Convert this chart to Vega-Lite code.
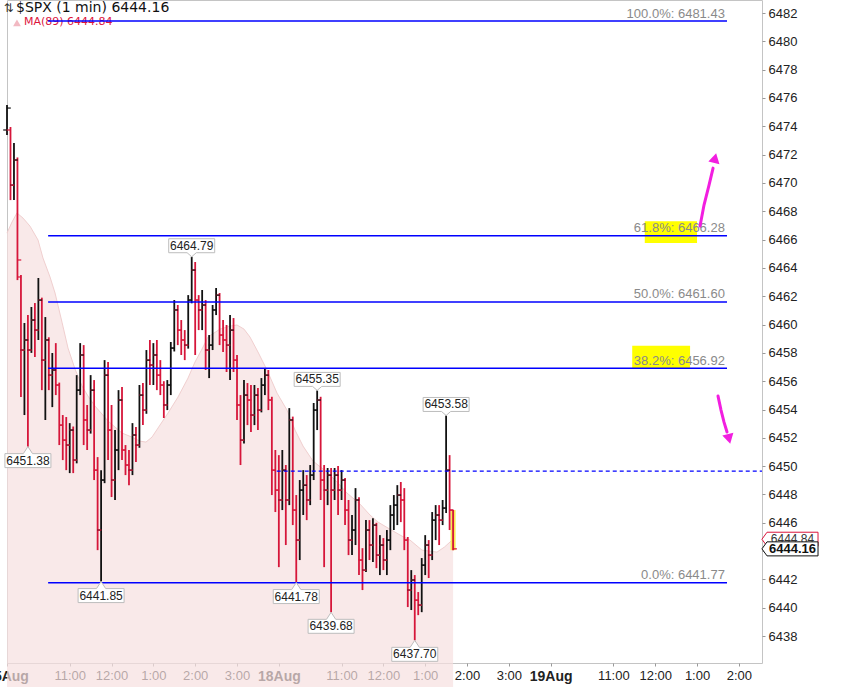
{
"$schema":"https://vega.github.io/schema/vega-lite/v6.json",
"width":755,"height":663,
"autosize":{"type":"none"},
"padding":{"left":7,"top":0,"right":79,"bottom":24},
"background":"white",
"config":{"view":{"stroke":"#c4c4c4","strokeWidth":1},"font":"Liberation Sans","axis":{"labelOverlap":false,"labelBound":false}},
"resolve":{"axis":{"y":"independent"}},
"datasets":{
"bars":[
{"m":0,"o":6473.74,"h":6475.5,"l":6473.38,"c":6475.29},
{"m":5,"o":6473.74,"h":6473.95,"l":6468.79,"c":6469.85},
{"m":10,"o":6469.85,"h":6472.82,"l":6468.79,"c":6471.62},
{"m":15,"o":6471.62,"h":6471.8,"l":6463.14,"c":6464.56},
{"m":20,"o":6463.36,"h":6463.5,"l":6454.88,"c":6458.2},
{"m":25,"o":6458.2,"h":6460.11,"l":6453.61,"c":6458.91},
{"m":30,"o":6458.91,"h":6460.67,"l":6451.38,"c":6458.2},
{"m":35,"o":6458.2,"h":6461.24,"l":6458.0,"c":6460.32},
{"m":40,"o":6460.32,"h":6461.52,"l":6457.71,"c":6459.61},
{"m":45,"o":6459.61,"h":6463.29,"l":6458.91,"c":6461.73},
{"m":50,"o":6461.73,"h":6461.9,"l":6455.37,"c":6457.49},
{"m":55,"o":6457.49,"h":6460.53,"l":6453.26,"c":6458.91},
{"m":60,"o":6458.91,"h":6459.1,"l":6455.37,"c":6456.43},
{"m":65,"o":6456.43,"h":6457.99,"l":6454.17,"c":6456.79},
{"m":70,"o":6456.79,"h":6458.69,"l":6455.02,"c":6455.73},
{"m":75,"o":6455.73,"h":6455.9,"l":6451.49,"c":6452.9},
{"m":80,"o":6452.9,"h":6453.61,"l":6450.43,"c":6451.84},
{"m":85,"o":6451.84,"h":6453.47,"l":6449.72,"c":6451.49},
{"m":90,"o":6451.49,"h":6453.04,"l":6449.51,"c":6452.55},
{"m":95,"o":6452.55,"h":6452.8,"l":6449.51,"c":6450.43},
{"m":100,"o":6450.43,"h":6456.43,"l":6450.2,"c":6455.37},
{"m":105,"o":6455.37,"h":6458.69,"l":6455.02,"c":6457.85},
{"m":110,"o":6457.85,"h":6458.55,"l":6451.49,"c":6453.26},
{"m":115,"o":6453.26,"h":6454.32,"l":6451.14,"c":6452.55},
{"m":120,"o":6452.55,"h":6456.43,"l":6452.3,"c":6455.37},
{"m":125,"o":6455.37,"h":6456.08,"l":6449.02,"c":6449.72},
{"m":130,"o":6449.72,"h":6450.64,"l":6444.07,"c":6445.49},
{"m":135,"o":6445.49,"h":6449.72,"l":6441.85,"c":6449.02},
{"m":140,"o":6449.02,"h":6457.49,"l":6448.8,"c":6456.43},
{"m":145,"o":6456.43,"h":6457.35,"l":6450.43,"c":6452.55},
{"m":150,"o":6452.55,"h":6454.32,"l":6447.82,"c":6449.02},
{"m":155,"o":6449.02,"h":6452.55,"l":6447.61,"c":6451.14},
{"m":160,"o":6451.14,"h":6455.37,"l":6449.72,"c":6454.67},
{"m":165,"o":6454.67,"h":6455.59,"l":6450.43,"c":6451.14},
{"m":170,"o":6451.14,"h":6451.49,"l":6449.37,"c":6450.08},
{"m":175,"o":6450.08,"h":6451.14,"l":6448.66,"c":6449.72},
{"m":180,"o":6449.72,"h":6453.04,"l":6449.37,"c":6452.2},
{"m":185,"o":6452.2,"h":6452.76,"l":6450.29,"c":6451.49},
{"m":190,"o":6451.49,"h":6455.73,"l":6451.3,"c":6455.02},
{"m":195,"o":6455.02,"h":6455.87,"l":6452.9,"c":6453.96},
{"m":200,"o":6453.96,"h":6458.2,"l":6453.7,"c":6457.49},
{"m":205,"o":6457.49,"h":6458.91,"l":6455.73,"c":6457.14},
{"m":210,"o":6457.14,"h":6458.69,"l":6455.73,"c":6457.85},
{"m":215,"o":6457.85,"h":6458.91,"l":6455.37,"c":6456.43},
{"m":220,"o":6456.43,"h":6457.49,"l":6455.02,"c":6455.73},
{"m":225,"o":6455.73,"h":6456.0,"l":6453.4,"c":6454.32},
{"m":230,"o":6454.32,"h":6456.08,"l":6453.96,"c":6455.73},
{"m":235,"o":6455.73,"h":6458.77,"l":6455.02,"c":6458.34},
{"m":240,"o":6458.34,"h":6461.73,"l":6458.1,"c":6461.03},
{"m":245,"o":6461.03,"h":6461.38,"l":6458.55,"c":6459.61},
{"m":250,"o":6459.61,"h":6460.32,"l":6457.85,"c":6458.91},
{"m":255,"o":6458.91,"h":6459.61,"l":6457.49,"c":6458.55},
{"m":260,"o":6458.55,"h":6462.08,"l":6458.3,"c":6461.73},
{"m":265,"o":6461.73,"h":6464.79,"l":6461.5,"c":6463.85},
{"m":270,"o":6463.85,"h":6464.42,"l":6457.85,"c":6461.73},
{"m":275,"o":6461.73,"h":6462.08,"l":6459.61,"c":6461.03},
{"m":280,"o":6461.03,"h":6462.44,"l":6459.61,"c":6461.38},
{"m":285,"o":6461.38,"h":6461.73,"l":6456.79,"c":6458.2},
{"m":290,"o":6458.2,"h":6459.26,"l":6456.22,"c":6458.55},
{"m":295,"o":6458.55,"h":6461.38,"l":6458.2,"c":6461.03},
{"m":300,"o":6461.03,"h":6462.58,"l":6460.67,"c":6462.08},
{"m":305,"o":6462.08,"h":6462.23,"l":6458.55,"c":6459.26},
{"m":310,"o":6459.26,"h":6460.32,"l":6458.06,"c":6458.91},
{"m":315,"o":6458.91,"h":6459.97,"l":6456.65,"c":6458.55},
{"m":320,"o":6458.55,"h":6460.67,"l":6456.08,"c":6459.61},
{"m":325,"o":6459.61,"h":6460.46,"l":6456.65,"c":6457.49},
{"m":330,"o":6457.49,"h":6457.85,"l":6453.26,"c":6454.32},
{"m":335,"o":6454.32,"h":6455.02,"l":6450.08,"c":6451.84},
{"m":340,"o":6451.84,"h":6456.08,"l":6451.6,"c":6455.02},
{"m":345,"o":6455.02,"h":6455.87,"l":6452.9,"c":6454.67},
{"m":350,"o":6454.67,"h":6455.73,"l":6452.41,"c":6453.61},
{"m":355,"o":6453.61,"h":6455.73,"l":6452.9,"c":6455.02},
{"m":360,"o":6455.02,"h":6455.52,"l":6452.55,"c":6453.96},
{"m":365,"o":6453.96,"h":6456.22,"l":6453.8,"c":6455.73},
{"m":370,"o":6455.73,"h":6456.93,"l":6455.02,"c":6456.43},
{"m":375,"o":6456.43,"h":6456.79,"l":6453.96,"c":6454.67},
{"m":380,"o":6454.67,"h":6454.9,"l":6447.96,"c":6449.72},
{"m":385,"o":6449.72,"h":6451.14,"l":6446.76,"c":6448.31},
{"m":390,"o":6448.31,"h":6450.78,"l":6442.87,"c":6447.61},
{"m":395,"o":6447.61,"h":6451.14,"l":6446.9,"c":6449.72},
{"m":400,"o":6449.72,"h":6450.08,"l":6444.43,"c":6447.61},
{"m":405,"o":6447.61,"h":6454.1,"l":6447.25,"c":6453.26},
{"m":410,"o":6453.26,"h":6453.5,"l":6445.84,"c":6446.9},
{"m":415,"o":6446.9,"h":6447.96,"l":6441.78,"c":6444.78},
{"m":420,"o":6444.78,"h":6449.02,"l":6443.37,"c":6448.31},
{"m":425,"o":6448.31,"h":6449.72,"l":6446.55,"c":6448.66},
{"m":430,"o":6448.66,"h":6449.37,"l":6446.19,"c":6447.61},
{"m":435,"o":6447.61,"h":6450.08,"l":6447.25,"c":6449.37},
{"m":440,"o":6449.37,"h":6454.46,"l":6449.02,"c":6453.96},
{"m":445,"o":6453.96,"h":6455.35,"l":6452.55,"c":6454.67},
{"m":450,"o":6454.67,"h":6454.9,"l":6447.61,"c":6449.02},
{"m":455,"o":6449.02,"h":6450.08,"l":6442.87,"c":6448.31},
{"m":460,"o":6448.31,"h":6449.87,"l":6447.25,"c":6449.37},
{"m":465,"o":6449.37,"h":6449.87,"l":6439.68,"c":6448.31},
{"m":470,"o":6448.31,"h":6449.87,"l":6447.61,"c":6449.37},
{"m":475,"o":6449.37,"h":6450.01,"l":6446.55,"c":6448.31},
{"m":480,"o":6448.31,"h":6449.72,"l":6447.61,"c":6449.02},
{"m":485,"o":6449.02,"h":6449.16,"l":6445.84,"c":6446.9},
{"m":490,"o":6446.9,"h":6447.61,"l":6443.72,"c":6444.78},
{"m":495,"o":6444.78,"h":6446.55,"l":6443.72,"c":6445.49},
{"m":500,"o":6445.49,"h":6448.45,"l":6444.43,"c":6447.61},
{"m":505,"o":6447.61,"h":6447.8,"l":6442.31,"c":6443.37},
{"m":510,"o":6443.37,"h":6444.21,"l":6441.25,"c":6442.66},
{"m":515,"o":6442.66,"h":6446.19,"l":6442.52,"c":6445.49},
{"m":520,"o":6445.49,"h":6446.19,"l":6443.37,"c":6444.43},
{"m":525,"o":6444.43,"h":6446.33,"l":6443.23,"c":6445.84},
{"m":530,"o":6445.84,"h":6446.0,"l":6442.8,"c":6443.72},
{"m":535,"o":6443.72,"h":6445.13,"l":6442.31,"c":6444.43},
{"m":540,"o":6444.43,"h":6444.92,"l":6442.66,"c":6443.37},
{"m":545,"o":6443.37,"h":6445.49,"l":6442.31,"c":6444.78},
{"m":550,"o":6444.78,"h":6447.25,"l":6444.07,"c":6446.55},
{"m":555,"o":6446.55,"h":6447.96,"l":6445.49,"c":6447.25},
{"m":560,"o":6447.25,"h":6448.66,"l":6445.84,"c":6447.96},
{"m":565,"o":6447.96,"h":6448.88,"l":6446.05,"c":6447.61},
{"m":570,"o":6447.61,"h":6448.45,"l":6444.07,"c":6444.78},
{"m":575,"o":6444.78,"h":6445.0,"l":6440.05,"c":6441.25},
{"m":580,"o":6441.25,"h":6442.66,"l":6439.84,"c":6441.96},
{"m":585,"o":6441.96,"h":6442.31,"l":6437.7,"c":6440.54},
{"m":590,"o":6440.54,"h":6441.11,"l":6439.48,"c":6440.19},
{"m":595,"o":6440.19,"h":6443.51,"l":6439.69,"c":6443.01},
{"m":600,"o":6443.01,"h":6445.13,"l":6442.31,"c":6444.43},
{"m":605,"o":6444.43,"h":6444.78,"l":6442.1,"c":6443.72},
{"m":610,"o":6443.72,"h":6446.76,"l":6443.37,"c":6446.19},
{"m":615,"o":6446.19,"h":6447.25,"l":6444.78,"c":6446.55},
{"m":620,"o":6446.55,"h":6447.25,"l":6444.43,"c":6446.19},
{"m":625,"o":6446.19,"h":6447.61,"l":6445.84,"c":6447.04},
{"m":630,"o":6447.04,"h":6453.58,"l":6446.69,"c":6449.72},
{"m":635,"o":6449.72,"h":6450.78,"l":6445.49,"c":6446.9},
{"m":640,"o":6446.9,"h":6446.9,"l":6444.07,"c":6444.16}
],
"ma":[
{"m":0,"v":6466.46},{"m":7.2,"v":6467.24},{"m":14.3,"v":6467.88},{"m":23,"v":6467.52},{"m":33,"v":6466.95},{"m":44.5,"v":6465.97},{"m":51.6,"v":6464.7},{"m":61.7,"v":6463.36},{"m":68.9,"v":6462.23},{"m":78.9,"v":6460.17},{"m":87.5,"v":6458.34},{"m":97.6,"v":6456.86},{"m":107.6,"v":6455.66},{"m":116.2,"v":6454.95},{"m":126.3,"v":6454.24},{"m":136.3,"v":6453.68},{"m":144.9,"v":6453.19},{"m":155,"v":6452.76},{"m":165,"v":6452.34},{"m":179.3,"v":6452.05},{"m":190.7,"v":6451.77},{"m":199.4,"v":6451.7},{"m":208,"v":6452.05},{"m":216.6,"v":6452.69},{"m":231,"v":6453.75},{"m":245.3,"v":6454.88},{"m":259.7,"v":6456.22},{"m":269.7,"v":6457.35},{"m":279.8,"v":6458.27},{"m":288.4,"v":6459.12},{"m":305.6,"v":6459.68},{"m":320,"v":6459.89},{"m":330,"v":6459.97},{"m":340,"v":6459.68},{"m":348.6,"v":6459.12},{"m":360.1,"v":6458.06},{"m":373,"v":6456.79},{"m":387.4,"v":6455.16},{"m":401.7,"v":6453.96},{"m":413.2,"v":6452.55},{"m":424.7,"v":6451.42},{"m":439,"v":6450.36},{"m":459.1,"v":6449.58},{"m":473.5,"v":6448.88},{"m":487.8,"v":6448.1},{"m":506.5,"v":6447.32},{"m":520.8,"v":6446.55},{"m":532.3,"v":6446.05},{"m":553.8,"v":6445.42},{"m":566.7,"v":6445.06},{"m":578.2,"v":6444.78},{"m":595.4,"v":6444.07},{"m":616.9,"v":6443.93},{"m":627.7,"v":6444.29},{"m":640,"v":6444.84}
],
"fib":[
{"v":6481.43,"t":"100.0%: 6481.43"},{"v":6466.28,"t":"61.8%: 6466.28"},{"v":6461.60,"t":"50.0%: 6461.60"},{"v":6456.92,"t":"38.2%: 6456.92"},{"v":6441.77,"t":"0.0%: 6441.77"}
],
"lbl":[
{"m":30,"v":6451.38,"t":"6451.38","p":"lo"},
{"m":135,"v":6441.85,"t":"6441.85","p":"lo"},
{"m":265,"v":6464.79,"t":"6464.79","p":"hi"},
{"m":415,"v":6441.78,"t":"6441.78","p":"lo"},
{"m":445,"v":6455.35,"t":"6455.35","p":"hi"},
{"m":465,"v":6439.68,"t":"6439.68","p":"lo"},
{"m":585,"v":6437.70,"t":"6437.70","p":"lo"},
{"m":630,"v":6453.58,"t":"6453.58","p":"hi"}
],
"arrows":[
{"m":994.3,"v":6466.96,"g":1},{"m":1000.0,"v":6468.44,"g":1},{"m":1007.2,"v":6469.85,"g":1},{"m":1013.0,"v":6471.05,"g":1},
{"m":1020.1,"v":6454.95,"g":2},{"m":1024.4,"v":6453.96,"g":2},{"m":1028.7,"v":6453.11,"g":2},{"m":1033.0,"v":6452.41,"g":2}
],
"px":[
{"v":6444.84,"t":"6444.84","k":"ma"},{"v":6444.16,"t":"6444.16","k":"px"}
]
},
"layer":[
{"data":{"name":"ma"},
 "mark":{"type":"area","color":"#f6e0e0","line":{"color":"#f0cfcf","strokeWidth":1}},
 "encoding":{
  "x":{"field":"m","type":"quantitative","scale":{"domain":[0,1083.2],"nice":false,"zero":false},
   "axis":{"orient":"bottom","title":null,"values":[0,90,150,210,270,330,390,480,540,600,660,720,780,870,930,990,1050],
    "labelExpr":"datum.value==0?'15Aug':datum.value==390?'18Aug':datum.value==780?'19Aug':(((9.5+(datum.value%390)/60)+11)%12+1)+':00'",
    "grid":false,"domain":false,"ticks":true,"tickSize":3,"tickColor":"#999",
    "labelFont":"Liberation Sans",
    "labelFontSize":{"condition":{"test":"datum.value % 390 == 0","value":14},"value":13},
    "labelFontWeight":{"condition":{"test":"datum.value % 390 == 0","value":"bold"},"value":"normal"},
    "labelColor":"#222","labelPadding":3,"labelOverlap":false,"labelBound":false,"labelFlush":false}},
  "y":{"field":"v","type":"quantitative","scale":{"domain":[6436.1,6482.92],"nice":false,"zero":false},
   "axis":{"orient":"right","title":null,"values":[6438,6442,6446,6450,6454,6458,6462,6466,6470,6474,6478,6482],
    "format":"d","grid":false,"domain":false,"tickSize":3,"tickColor":"#999","labelFont":"Liberation Sans","labelFontSize":13,"labelColor":"#222","labelPadding":3,"labelBound":false,"labelOverlap":false}}
 }},
{"data":{"name":"bars"},"transform":[{"filter":"datum.m == 640"}],
 "mark":{"type":"rule","strokeWidth":5,"color":"#f7ea55"},
 "encoding":{"x":{"field":"m","type":"quantitative"},"y":{"field":"l","type":"quantitative","axis":null},"y2":{"field":"h"}}},
{"data":{"name":"bars"},
 "mark":{"type":"rule","strokeWidth":1.8},
 "encoding":{"x":{"field":"m","type":"quantitative"},"y":{"field":"l","type":"quantitative","axis":null},"y2":{"field":"h"},
  "color":{"condition":{"test":"datum.c >= datum.o","value":"#111111"},"value":"#d6163a"}}},
{"data":{"name":"bars"},
 "mark":{"type":"tick","orient":"horizontal","size":4,"thickness":1.2,"xOffset":-1.8,"opacity":1},
 "encoding":{"x":{"field":"m","type":"quantitative"},"y":{"field":"o","type":"quantitative","axis":null},
  "color":{"condition":{"test":"datum.c >= datum.o","value":"#111111"},"value":"#d6163a"}}},
{"data":{"name":"bars"},
 "mark":{"type":"tick","orient":"horizontal","size":4,"thickness":1.2,"xOffset":1.8,"opacity":1},
 "encoding":{"x":{"field":"m","type":"quantitative"},"y":{"field":"c","type":"quantitative","axis":null},
  "color":{"condition":{"test":"datum.c >= datum.o","value":"#111111"},"value":"#d6163a"}}},
{"data":{"values":[{}]},
 "mark":{"type":"text","text":"⇅","font":"DejaVu Sans","fontSize":12,"color":"#333","align":"center","baseline":"middle"},
 "encoding":{"x":{"datum":2.5},"y":{"datum":6482.35,"axis":null}}},
{"data":{"values":[{}]},
 "mark":{"type":"text","text":"$SPX (1 min) 6444.16","font":"DejaVu Sans","fontSize":14,"color":"#111","align":"left","baseline":"middle"},
 "encoding":{"x":{"datum":12.9},"y":{"datum":6482.35,"axis":null}}},
{"data":{"values":[{}]},
 "mark":{"type":"point","shape":"triangle-up","filled":true,"color":"#f2b9c2","size":60,"opacity":1},
 "encoding":{"x":{"datum":14.3},"y":{"datum":6481.3,"axis":null}}},
{"data":{"values":[{}]},
 "mark":{"type":"text","text":"MA(89) 6444.84","font":"DejaVu Sans","fontSize":11,"color":"#dc143c","align":"left","baseline":"middle"},
 "encoding":{"x":{"datum":24.4},"y":{"datum":6481.37,"axis":null}}},
{"data":{"values":[{}]},
 "mark":{"type":"rect","color":"#ffff00"},
 "encoding":{"x":{"datum":915},"x2":{"datum":990},"y":{"datum":6467.3,"axis":null},"y2":{"datum":6465.76}}},
{"data":{"values":[{}]},
 "mark":{"type":"rect","color":"#ffff00"},
 "encoding":{"x":{"datum":897},"x2":{"datum":980},"y":{"datum":6458.5,"axis":null},"y2":{"datum":6456.93}}},
{"data":{"name":"fib"},
 "mark":{"type":"rule","color":"#0000ff","strokeWidth":1.5},
 "encoding":{"x":{"datum":59},"x2":{"datum":1033},"y":{"field":"v","type":"quantitative",
   "axis":{"orient":"right","title":null,"values":[6440,6444,6448,6452,6456,6460,6464,6468,6472,6476,6480],
    "format":"d","grid":false,"domain":false,"tickSize":3,"tickColor":"#999","labelFont":"Liberation Sans","labelFontSize":13,"labelColor":"#222","labelPadding":3,"labelBound":false,"labelOverlap":false}}}},
{"data":{"values":[{}]},
 "mark":{"type":"rule","color":"#0000ff","strokeWidth":1.2,"strokeDash":[4,3]},
 "encoding":{"x":{"datum":387},"x2":{"datum":1083.2},"y":{"datum":6449.65,"axis":null}}},
{"data":{"name":"fib"},
 "mark":{"type":"text","align":"right","baseline":"alphabetic","dy":-3.5,"font":"Liberation Sans","fontSize":13,"color":"#8a8a8a"},
 "encoding":{"x":{"datum":1030},"y":{"field":"v","type":"quantitative","axis":null},"text":{"field":"t"}}},
{"data":{"name":"lbl"},"transform":[{"filter":"datum.p == 'hi'"}],
 "mark":{"type":"point","shape":"M-1,-0.304H1V0.304H0.2L0,0.478L-0.2,0.304H-1Z","size":2116,"filled":true,"fill":"white","stroke":"#bdbdbd","strokeWidth":1,"opacity":1,"yOffset":-11},
 "encoding":{"x":{"field":"m","type":"quantitative"},"y":{"field":"v","type":"quantitative","axis":null}}},
{"data":{"name":"lbl"},"transform":[{"filter":"datum.p == 'hi'"}],
 "mark":{"type":"text","dy":-11,"baseline":"middle","align":"center","font":"Liberation Sans","fontSize":12,"color":"#222"},
 "encoding":{"x":{"field":"m","type":"quantitative"},"y":{"field":"v","type":"quantitative","axis":null},"text":{"field":"t"}}},
{"data":{"name":"lbl"},"transform":[{"filter":"datum.p == 'lo'"}],
 "mark":{"type":"point","shape":"M-1,0.304H1V-0.304H0.2L0,-0.609L-0.2,-0.304H-1Z","size":2116,"filled":true,"fill":"white","stroke":"#bdbdbd","strokeWidth":1,"opacity":1,"yOffset":14},
 "encoding":{"x":{"field":"m","type":"quantitative"},"y":{"field":"v","type":"quantitative","axis":null}}},
{"data":{"name":"lbl"},"transform":[{"filter":"datum.p == 'lo'"}],
 "mark":{"type":"text","dy":14,"baseline":"middle","align":"center","font":"Liberation Sans","fontSize":12,"color":"#222"},
 "encoding":{"x":{"field":"m","type":"quantitative"},"y":{"field":"v","type":"quantitative","axis":null},"text":{"field":"t"}}},
{"data":{"name":"arrows"},
 "mark":{"type":"line","color":"#f21ee0","strokeWidth":3,"strokeCap":"round"},
 "encoding":{"x":{"field":"m","type":"quantitative"},"y":{"field":"v","type":"quantitative","axis":null},"detail":{"field":"g"}}},
{"data":{"values":[{}]},
 "mark":{"type":"point","shape":"triangle-up","filled":true,"color":"#f21ee0","size":130,"opacity":1,"angle":13},
 "encoding":{"x":{"datum":1015.8},"y":{"datum":6471.76,"axis":null}}},
{"data":{"values":[{}]},
 "mark":{"type":"point","shape":"triangle-down","filled":true,"color":"#f21ee0","size":130,"opacity":1,"angle":-14},
 "encoding":{"x":{"datum":1035.9},"y":{"datum":6451.92,"axis":null}}},
{"data":{"name":"px"},"transform":[{"filter":"datum.k == 'ma'"}],
 "mark":{"type":"point","shape":"M-1.2,0L-1,-0.275H1V0.275H-1Z","size":2601,"filled":true,"fill":"white","stroke":"#dc143c","strokeWidth":1,"opacity":1},
 "encoding":{"x":{"datum":1127},"y":{"field":"v","type":"quantitative","axis":null}}},
{"data":{"name":"px"},"transform":[{"filter":"datum.k == 'ma'"}],
 "mark":{"type":"text","align":"center","baseline":"middle","font":"Liberation Sans","fontSize":12,"color":"#333"},
 "encoding":{"x":{"datum":1127},"y":{"field":"v","type":"quantitative","axis":null},"text":{"field":"t"}}},
{"data":{"name":"px"},"transform":[{"filter":"datum.k == 'px'"}],
 "mark":{"type":"point","shape":"M-1.2,0L-1,-0.275H1V0.275H-1Z","size":2601,"filled":true,"fill":"white","stroke":"#111","strokeWidth":1,"opacity":1},
 "encoding":{"x":{"datum":1127},"y":{"field":"v","type":"quantitative","axis":null}}},
{"data":{"name":"px"},"transform":[{"filter":"datum.k == 'px'"}],
 "mark":{"type":"text","align":"center","baseline":"middle","font":"Liberation Sans","fontSize":13,"fontWeight":"bold","color":"#111"},
 "encoding":{"x":{"datum":1127},"y":{"field":"v","type":"quantitative","axis":null},"text":{"field":"t"}}}
]
}
